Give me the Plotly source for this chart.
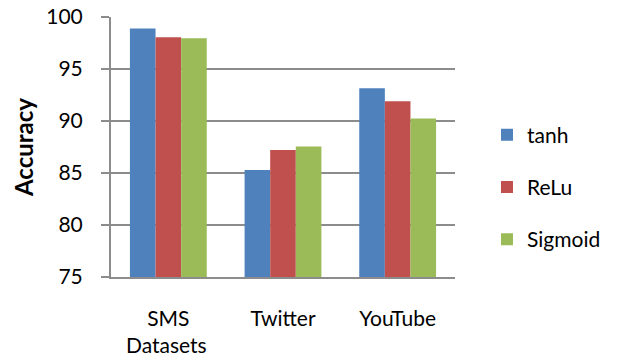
import plotly.graph_objects as go

categories = ["SMS", "Twitter", "YouTube"]
tanh = [98.9, 85.3, 93.15]
relu = [98.05, 87.2, 91.9]
sigmoid = [97.95, 87.55, 90.25]
series_names = ["tanh", "ReLu", "Sigmoid"]
colors = ["#4F81BD", "#C0504D", "#9BBB59"]

FONT = "Lato, 'Liberation Sans', sans-serif"
fig = go.Figure()
for i, (name, vals) in enumerate(zip(series_names, [tanh, relu, sigmoid])):
    fig.add_trace(go.Bar(x=categories, y=vals, name=name, marker_color=colors[i],
                         marker_line_width=0, legendgroup=f"g{i}"))

grid = "#8c8c8c"
fig.update_layout(
    width=620, height=359,
    margin=dict(l=111, r=165, t=17, b=82, autoexpand=False),
    paper_bgcolor="white", plot_bgcolor="white",
    barmode="group", bargap=0.33, bargroupgap=0,
    font=dict(family=FONT, size=21, color="black"),
    legend=dict(x=1.093, xanchor="left", y=0.346, yanchor="middle",
                font=dict(size=21), tracegroupgap=22, itemwidth=30),
    xaxis=dict(showline=True, linecolor=grid, linewidth=2, ticks="",
               tickfont=dict(size=21), showgrid=False, ticklabelstandoff=22,
               automargin=False),
    yaxis=dict(range=[75, 100], dtick=5, showgrid=True, gridcolor=grid, gridwidth=2,
               showline=True, linecolor=grid, linewidth=2, ticks="outside",
               ticklen=8, tickcolor=grid, tickwidth=2, tickfont=dict(size=21),
               ticklabelstandoff=14, automargin=False,
               title=dict(text="<b>Accuracy</b>", font=dict(size=24), standoff=6),
               zeroline=False),
)
fig.add_annotation(text="Datasets", xref="paper", yref="paper", x=(166-111)/344, y=-(344-277)/260,
                   showarrow=False, font=dict(size=21), xanchor="center", yanchor="middle")
fig.write_html("out.html")
